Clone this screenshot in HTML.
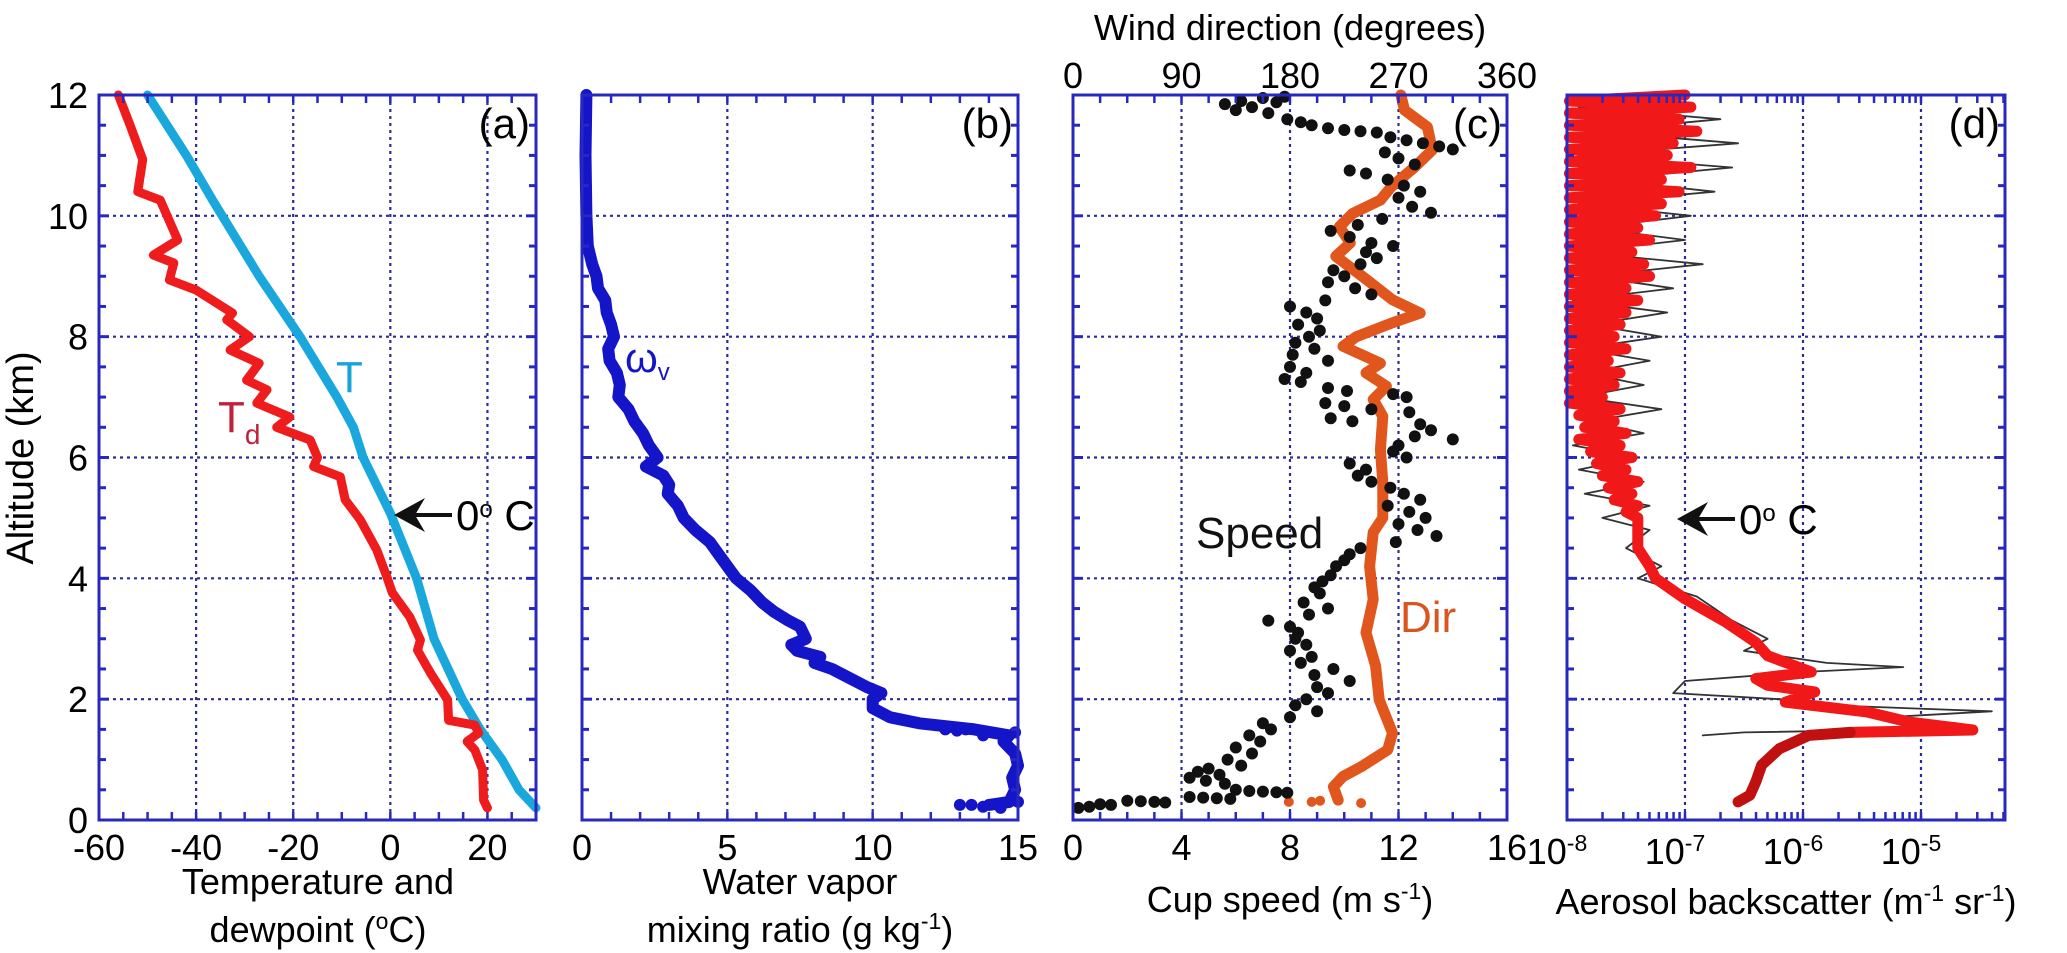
<!DOCTYPE html>
<html><head><meta charset="utf-8">
<style>
html,body{margin:0;padding:0;background:#fff;}
svg{display:block;}
text{font-family:"Liberation Sans",sans-serif;}
</style></head>
<body>
<svg id="chart" xmlns="http://www.w3.org/2000/svg" width="2067" height="953" viewBox="0 0 2067 953">
<rect x="0" y="0" width="2067" height="953" fill="#fff"/>
<g id="marks"></g>
<g id="frames"></g>
<g id="labels">
<text x="33" y="458" font-size="38" text-anchor="middle" transform="rotate(-90 33 458)">Altitude (km)</text>
<text x="318" y="894" font-size="36" text-anchor="middle">Temperature and</text>
<text x="318" y="942" font-size="36" text-anchor="middle">dewpoint (<tspan baseline-shift="super" font-size="23">o</tspan>C)</text>
<text x="800" y="894" font-size="36" text-anchor="middle">Water vapor</text>
<text x="800" y="942" font-size="36" text-anchor="middle">mixing ratio (g kg<tspan baseline-shift="super" font-size="23">-1</tspan>)</text>
<text x="1290" y="912" font-size="36" text-anchor="middle">Cup speed (m s<tspan baseline-shift="super" font-size="23">-1</tspan>)</text>
<text x="1290" y="40" font-size="36" text-anchor="middle">Wind direction (degrees)</text>
<text x="1786" y="914" font-size="36" text-anchor="middle">Aerosol backscatter (m<tspan baseline-shift="super" font-size="23">-1</tspan> sr<tspan baseline-shift="super" font-size="23">-1</tspan>)</text>
<text x="530" y="138" font-size="42" text-anchor="end">(a)</text>
<text x="1013" y="138" font-size="42" text-anchor="end">(b)</text>
<text x="1502" y="138" font-size="42" text-anchor="end">(c)</text>
<text x="2000" y="138" font-size="42" text-anchor="end">(d)</text>
<text x="336" y="392" font-size="44" fill="#1aa3d8">T</text>
<text x="218" y="432" font-size="44" fill="#c0203a">T<tspan font-size="28" dy="12">d</tspan></text>
<text x="625" y="372" font-size="42" fill="#1515c8">ω<tspan font-size="24" dy="8">v</tspan></text>
<text x="1196" y="548" font-size="44" fill="#111">Speed</text>
<text x="1400" y="632" font-size="44" fill="#d9541e">Dir</text>
<g>
<line x1="452" y1="515" x2="408" y2="515" stroke="#111" stroke-width="4"/>
<polygon points="394,515 425,498 415,515 425,532" fill="#111"/>
<text x="456" y="530" font-size="42">0<tspan baseline-shift="super" font-size="24">o</tspan> C</text>
</g>
<g>
<line x1="1735" y1="519" x2="1690" y2="519" stroke="#111" stroke-width="4"/>
<polygon points="1677,519 1708,502 1698,519 1708,536" fill="#111"/>
<text x="1739" y="534" font-size="42">0<tspan baseline-shift="super" font-size="24">o</tspan> C</text>
</g>
</g>
</svg>
<script>
// ---------- data ----------
const altTicks = [0,2,4,6,8,10,12];
const tempTicks = [-60,-40,-20,0,20];
const mixTicks = [0,5,10,15];
const speedTicks = [0,4,8,12,16];
const dirTicks = [0,90,180,270,360];
const aerTicks = [-8,-7,-6,-5];

const tAlt = [12,11,10.26,9,8,7,6.5,6,5.08,4,3,2,1.5,1,0.5,0.2];
const tVal = [-50,-42,-36.6,-27,-18.6,-11,-7.6,-5.6,0,5.4,9,14.8,18.5,23,26.5,30];

const tdAlt = [12,11.5,10.93,10.4,10.26,9.6,9.35,9.22,8.94,8.77,8.39,8.28,8.0,7.78,7.56,7.28,7.12,6.9,6.67,6.5,6.29,6.0,5.85,5.68,5.3,4.97,4.47,4.0,3.76,3.36,2.98,2.81,2.43,1.99,1.65,1.57,1.44,1.3,1.16,0.83,0.33,0.2];
const tdVal = [-56,-53.6,-51,-52,-47.4,-43.8,-48.8,-44.6,-45.5,-40,-32.5,-33.7,-29,-33,-27,-29.6,-25.4,-27.5,-20.7,-23.4,-16.5,-15,-15.8,-10.3,-9.3,-6.2,-2.8,-0.6,0.4,4,6.2,5.6,8.3,11.8,12,17.4,18.2,15.8,17.4,19,19.2,20];

const mixAlt = [12,11,10,9.5,9.2,9.0,8.8,8.6,8.4,8.2,8.0,7.8,7.6,7.4,7.2,7.0,6.8,6.6,6.4,6.2,6.0,5.85,5.7,5.55,5.4,5.2,5.0,4.8,4.6,4.4,4.2,4.0,3.8,3.6,3.45,3.3,3.2,3.1,3.0,2.9,2.8,2.7,2.6,2.5,2.35,2.2,2.1,2.0,1.85,1.7,1.6,1.5,1.4,1.3,1.1,0.9,0.7,0.5,0.3,0.25];
const mixVal = [0.15,0.12,0.15,0.2,0.35,0.5,0.55,0.8,0.85,1.0,1.1,0.9,0.95,1.2,1.3,1.25,1.6,1.8,2.1,2.3,2.6,2.2,2.8,3.0,2.95,3.3,3.5,3.9,4.4,4.7,5.0,5.3,5.8,6.2,6.6,7.1,7.5,7.6,7.7,7.2,7.4,8.2,8.0,8.6,9.2,9.8,10.3,10.0,10.0,10.6,11.6,13.5,14.7,14.5,14.9,15,14.8,14.9,14.7,14.0];
const mixDotAlt = [1.5,1.5,1.48,1.45,1.4,0.25,0.25,0.22,0.2,0.3];
const mixDotVal = [12.5,13.2,12.9,14.9,13.8,13.0,13.4,13.8,14.4,15.0];

const dirAlt = [12,11.75,11.47,11.09,10.8,10.48,10.26,10.04,9.82,9.55,9.33,9.0,8.61,8.39,8.23,8.0,7.84,7.56,7.4,7.18,6.96,6.68,6.13,5.59,5.0,4.76,4.2,3.65,3.1,2.55,1.99,1.44,1.16,0.88,0.72,0.55,0.33];
const dirVal = [272,275,294,298,283,264,255,232,221,230,218,240,265,288,265,235,224,255,243,260,249,257,255,257,257,249,246,249,243,251,254,265,261,239,224,216,220];
const dirDotAlt = [0.3,0.3,0.28,0.32];
const dirDotVal = [179,198,239,205];

const spdAlt = [11.85,11.9,11.8,11.95,11.88,11.97,11.75,11.7,11.6,11.55,11.5,11.45,11.42,11.4,11.38,11.3,11.25,11.2,11.15,11.1,11.05,10.95,10.85,10.75,10.7,10.6,10.5,10.4,10.3,10.15,10.05,9.95,9.85,9.75,9.65,9.55,9.5,9.4,9.3,9.2,9.1,9.0,8.9,8.8,8.7,8.6,8.5,8.4,8.3,8.2,8.1,8.0,7.9,7.8,7.7,7.6,7.5,7.4,7.3,7.25,7.15,7.1,7.05,7.0,6.9,6.85,6.8,6.75,6.65,6.6,6.55,6.45,6.35,6.3,6.2,6.1,6.0,5.9,5.8,5.7,5.6,5.5,5.4,5.3,5.2,5.1,5.0,4.9,4.8,4.7,4.6,4.5,4.4,4.3,4.2,4.05,3.95,3.85,3.75,3.6,3.5,3.4,3.3,3.2,3.1,3.0,2.9,2.8,2.7,2.6,2.5,2.4,2.3,2.2,2.1,2.0,1.9,1.8,1.7,1.6,1.5,1.4,1.3,1.2,1.1,1.0,0.9,0.85,0.8,0.75,0.7,0.65,0.6,0.5,0.48,0.47,0.46,0.45,0.38,0.37,0.36,0.35,0.32,0.31,0.3,0.29,0.26,0.25,0.2,0.22];
const spdVal = [5.6,6.2,6.6,7.0,7.5,7.8,6.0,7.2,7.9,8.4,8.8,9.4,10.0,10.6,11.2,11.7,12.3,12.9,13.5,14.0,11.5,12.0,12.6,10.2,10.8,11.6,12.2,12.8,12.0,12.5,13.2,11.4,10.5,9.5,10.2,11.0,11.8,10.8,11.2,10.6,9.6,10.0,9.4,10.4,11.0,9.3,8.0,8.6,9.0,8.3,9.1,8.7,8.2,8.9,8.1,9.4,8.0,8.6,7.8,8.4,9.4,10.1,11.8,12.3,9.3,10.0,11.0,12.4,9.5,10.3,12.8,13.2,12.6,14.0,12.0,11.8,12.3,10.2,10.8,10.5,11.0,11.7,12.2,12.8,11.6,12.4,13.0,12.0,12.7,13.4,11.9,10.6,10.2,10.0,9.7,9.5,9.2,8.9,9.1,8.5,9.4,8.7,7.2,8.0,8.3,8.2,8.6,8.0,8.8,8.4,9.6,8.9,10.2,9.0,9.4,8.6,8.2,9.0,8.0,7.0,7.3,6.5,6.9,6.0,6.6,5.7,6.2,5.0,4.6,5.4,4.3,4.9,5.6,6.0,6.5,7.0,7.5,7.9,4.3,4.8,5.3,5.8,2.0,2.5,3.0,3.4,1.0,1.4,0.2,0.6];

const aerRedAlt = [12.0,11.9,11.8,11.7,11.6,11.5,11.4,11.3,11.2,11.1,11.0,10.9,10.8,10.7,10.6,10.5,10.4,10.3,10.2,10.1,10.0,9.9,9.8,9.7,9.6,9.5,9.4,9.3,9.2,9.1,9.0,8.9,8.8,8.7,8.6,8.5,8.4,8.3,8.2,8.1,8.0,7.9,7.8,7.7,7.6,7.5,7.4,7.3,7.2,7.1,7.0,6.9,6.8,6.7,6.6,6.5,6.4,6.3,6.2,6.1,6.0,5.9,5.8,5.7,5.6,5.5,5.4,5.3,5.2,5.1,5.0,4.8,4.5,4.2,4.0,3.66,3.27,2.94,2.72,2.45,2.34,2.23,2.12,1.95,1.79,1.62,1.49,1.45];
const aerRedLog = [-7.0,-7.98,-6.95,-7.98,-7.05,-7.98,-6.9,-7.98,-7.1,-7.98,-7.15,-7.98,-6.95,-7.98,-7.2,-7.98,-7.05,-7.98,-7.2,-7.98,-7.25,-7.98,-7.4,-7.98,-7.3,-7.98,-7.45,-7.98,-7.35,-7.98,-7.3,-7.98,-7.5,-7.98,-7.4,-7.98,-7.5,-7.98,-7.55,-7.98,-7.6,-7.98,-7.5,-7.98,-7.65,-7.98,-7.55,-7.98,-7.6,-7.98,-7.7,-7.98,-7.55,-7.9,-7.6,-7.85,-7.5,-7.9,-7.55,-7.8,-7.45,-7.75,-7.5,-7.7,-7.4,-7.65,-7.45,-7.6,-7.4,-7.5,-7.4,-7.4,-7.4,-7.3,-7.25,-7.0,-6.65,-6.4,-6.3,-5.93,-6.4,-6.3,-5.9,-6.15,-5.46,-5.1,-4.56,-5.6];
const aerLowAlt = [1.45,1.4,1.18,0.91,0.63,0.41,0.3];
const aerLowLog = [-5.6,-5.95,-6.2,-6.35,-6.4,-6.45,-6.55];
const aerGrayAlt = [12.0,11.8,11.6,11.4,11.2,11.0,10.8,10.6,10.4,10.2,10.0,9.8,9.6,9.4,9.2,9.0,8.8,8.6,8.4,8.2,8.0,7.8,7.6,7.4,7.2,7.0,6.8,6.6,6.4,6.2,6.0,5.8,5.6,5.4,5.2,5.0,4.8,4.5,4.2,4.0,3.7,3.3,3.0,2.8,2.6,2.53,2.45,2.3,2.1,2.0,1.9,1.8,1.7,1.6,1.5,1.45,1.4];
const aerGrayLog = [-6.9,-7.9,-6.7,-7.8,-6.55,-7.9,-6.6,-7.7,-6.75,-7.9,-6.95,-7.8,-7.0,-7.9,-6.85,-7.8,-7.1,-7.95,-7.15,-7.8,-7.2,-7.9,-7.3,-7.85,-7.35,-7.9,-7.2,-7.8,-7.35,-7.95,-7.4,-7.9,-7.35,-7.85,-7.3,-7.7,-7.3,-7.5,-7.2,-7.4,-6.9,-6.6,-6.3,-6.5,-5.8,-5.15,-6.0,-7.0,-7.1,-6.2,-5.8,-4.4,-5.3,-4.7,-5.0,-6.5,-6.85];

// ---------- scales ----------
const Y0 = 820, Y1 = 95, AMAX = 12;
function yAlt(a){ return Y0 - (a/AMAX)*(Y0-Y1); }
function lin(x0,x1,d0,d1){ return v => x0 + (v-d0)/(d1-d0)*(x1-x0); }
const xTemp = lin(99,536,-60,30);
const xMix = lin(582,1018,0,15);
const xSpd = lin(1073,1507,0,16);
const xDir = lin(1073,1507,0,360);
const xAer = lin(1567,2005,-8,-4.288);

const NS = 'http://www.w3.org/2000/svg';
const marks = document.getElementById('marks');
const frames = document.getElementById('frames');
function mk(tag, parent){ const e = document.createElementNS(NS, tag); parent.appendChild(e); return e; }
function pts(xs, ys){ return xs.map((x,i)=>x.toFixed(1)+','+ys[i].toFixed(1)).join(' '); }

const GRID = '#2b2b9a', AX = '#2828c0';

function panel(key, x0, x1, xGridVals, xf, minorVals){
  for (const v of xGridVals){
    const gx = xf(v);
    if (gx <= x0+2 || gx >= x1-2) continue;
    const l = mk('line', marks);
    l.setAttribute('x1', gx); l.setAttribute('x2', gx);
    l.setAttribute('y1', Y1); l.setAttribute('y2', Y0);
    l.setAttribute('stroke', GRID); l.setAttribute('stroke-width', 2.2);
    l.setAttribute('stroke-dasharray', '3,4');
    
    
  }
  for (const a of altTicks){
    if (a===0 || a===12) continue;
    const l = mk('line', marks);
    l.setAttribute('x1', x0); l.setAttribute('x2', x1);
    l.setAttribute('y1', yAlt(a)); l.setAttribute('y2', yAlt(a));
    l.setAttribute('stroke', GRID); l.setAttribute('stroke-width', 2.2);
    l.setAttribute('stroke-dasharray', '3,4');
    
    
  }
  const r = mk('rect', frames);
  r.setAttribute('x', x0); r.setAttribute('y', Y1);
  r.setAttribute('width', x1-x0); r.setAttribute('height', Y0-Y1);
  r.setAttribute('fill', 'none'); r.setAttribute('stroke', AX); r.setAttribute('stroke-width', 3);
  
  
  for (let i=1;i<24;i++){
    const a = i*0.5, yy = yAlt(a), len = (a%2===0)?10:7;
    for (const side of [0,1]){
      const t = mk('line', frames);
      const xs = side ? x1 : x0, dir = side ? -1 : 1;
      t.setAttribute('x1', xs); t.setAttribute('x2', xs+dir*len);
      t.setAttribute('y1', yy); t.setAttribute('y2', yy);
      t.setAttribute('stroke', AX); t.setAttribute('stroke-width', 3);
      
      
    }
  }
  for (const v of minorVals){
    const gx = xf(v);
    if (gx < x0 || gx > x1) continue;
    for (const side of [0,1]){
      const t = mk('line', frames);
      const ys = side ? Y1 : Y0, dir = side ? 1 : -1;
      t.setAttribute('x1', gx); t.setAttribute('x2', gx);
      t.setAttribute('y1', ys); t.setAttribute('y2', ys+dir*8);
      t.setAttribute('stroke', AX); t.setAttribute('stroke-width', 2.5);
      
      
    }
  }
}

function range(a,b,s){ const o=[]; for(let v=a; v<=b+1e-9; v+=s) o.push(+v.toFixed(4)); return o; }
const aerMinor = [];
for (let d=-8; d<-4; d++) for (let m=1;m<10;m++){ const lv = d+Math.log10(m); if (lv<=-4.288) aerMinor.push(lv); }

panel('panel-a', 99, 536, tempTicks, xTemp, range(-60,30,5));
panel('panel-b', 582, 1018, [5,10], xMix, range(0,15,1));
panel('panel-c', 1073, 1507, [4,8,12], xSpd, range(0,16,1));
panel('panel-d', 1567, 2005, aerTicks, xAer, aerMinor);

// ---------- tick labels ----------
const lab = document.getElementById('labels');
for (const a of altTicks){
  const t = mk('text', lab);
  t.setAttribute('x', 88); t.setAttribute('y', yAlt(a)+13);
  t.setAttribute('font-size', 36); t.setAttribute('text-anchor', 'end');
  t.textContent = a;
  
  
}
function xLabels(vals, xf, key){
  vals.forEach((v)=>{
    const t = mk('text', lab);
    t.setAttribute('x', xf(v)); t.setAttribute('y', 860);
    t.setAttribute('font-size', 36); t.setAttribute('text-anchor', 'middle');
    t.textContent = v;
    
    
  });
}
xLabels(tempTicks, xTemp, 'panel-a');
xLabels(mixTicks, xMix, 'panel-b');
xLabels(speedTicks, xSpd, 'panel-c');
dirTicks.forEach(v=>{
  const t = mk('text', lab);
  t.setAttribute('x', xDir(v)); t.setAttribute('y', 88);
  t.setAttribute('font-size', 36); t.setAttribute('text-anchor', 'middle');
  t.textContent = v;
  
  
});
aerTicks.forEach(v=>{
  const t = mk('text', lab);
  t.setAttribute('x', xAer(v)-10); t.setAttribute('y', 864);
  t.setAttribute('font-size', 36); t.setAttribute('text-anchor', 'middle');
  t.textContent = '10';
  const s = mk('tspan', t);
  s.setAttribute('baseline-shift', 'super'); s.setAttribute('font-size', 23);
  s.textContent = v;
  
  
});

// ---------- series ----------
function line(xs, ys, color, w, name){
  const p = mk('polyline', marks);
  p.setAttribute('points', pts(xs, ys));
  p.setAttribute('fill', 'none'); p.setAttribute('stroke', color);
  p.setAttribute('stroke-width', w); p.setAttribute('stroke-linejoin', 'round'); p.setAttribute('stroke-linecap', 'round');
  
  
  return p;
}
function dots(xs, ys, color, r, name){
  xs.forEach((x,i)=>{
    const c = mk('circle', marks);
    c.setAttribute('cx', x.toFixed(1)); c.setAttribute('cy', ys[i].toFixed(1)); c.setAttribute('r', r);
    c.setAttribute('fill', color);
    
    
  });
}

line(tVal.map(xTemp), tAlt.map(yAlt), '#1aa8dc', 9, 'temperature-line');
line(tdVal.map(xTemp), tdAlt.map(yAlt), '#ee1c1c', 9, 'dewpoint-line');

line(mixVal.map(xMix), mixAlt.map(yAlt), '#1414c8', 12, 'mixing-ratio-line');
dots(mixDotVal.map(xMix), mixDotAlt.map(yAlt), '#1414c8', 6, 'mixing-ratio-point');

line(dirVal.map(xDir), dirAlt.map(yAlt), '#e0561c', 11, 'wind-direction-line');
dots(dirDotVal.map(xDir), dirDotAlt.map(yAlt), '#e0561c', 5, 'wind-direction-point');
dots(spdVal.map(xSpd), spdAlt.map(yAlt), '#111', 6, 'cup-speed-point');

line(aerGrayLog.map(xAer), aerGrayAlt.map(yAlt), '#333', 1.8, 'backscatter-individual-profiles');
line(aerRedLog.map(xAer), aerRedAlt.map(yAlt), '#f01818', 11, 'backscatter-mean-line');
line(aerLowLog.map(xAer), aerLowAlt.map(yAlt), '#c01010', 11, 'backscatter-boundary-layer-line');
</script>
</body></html>
